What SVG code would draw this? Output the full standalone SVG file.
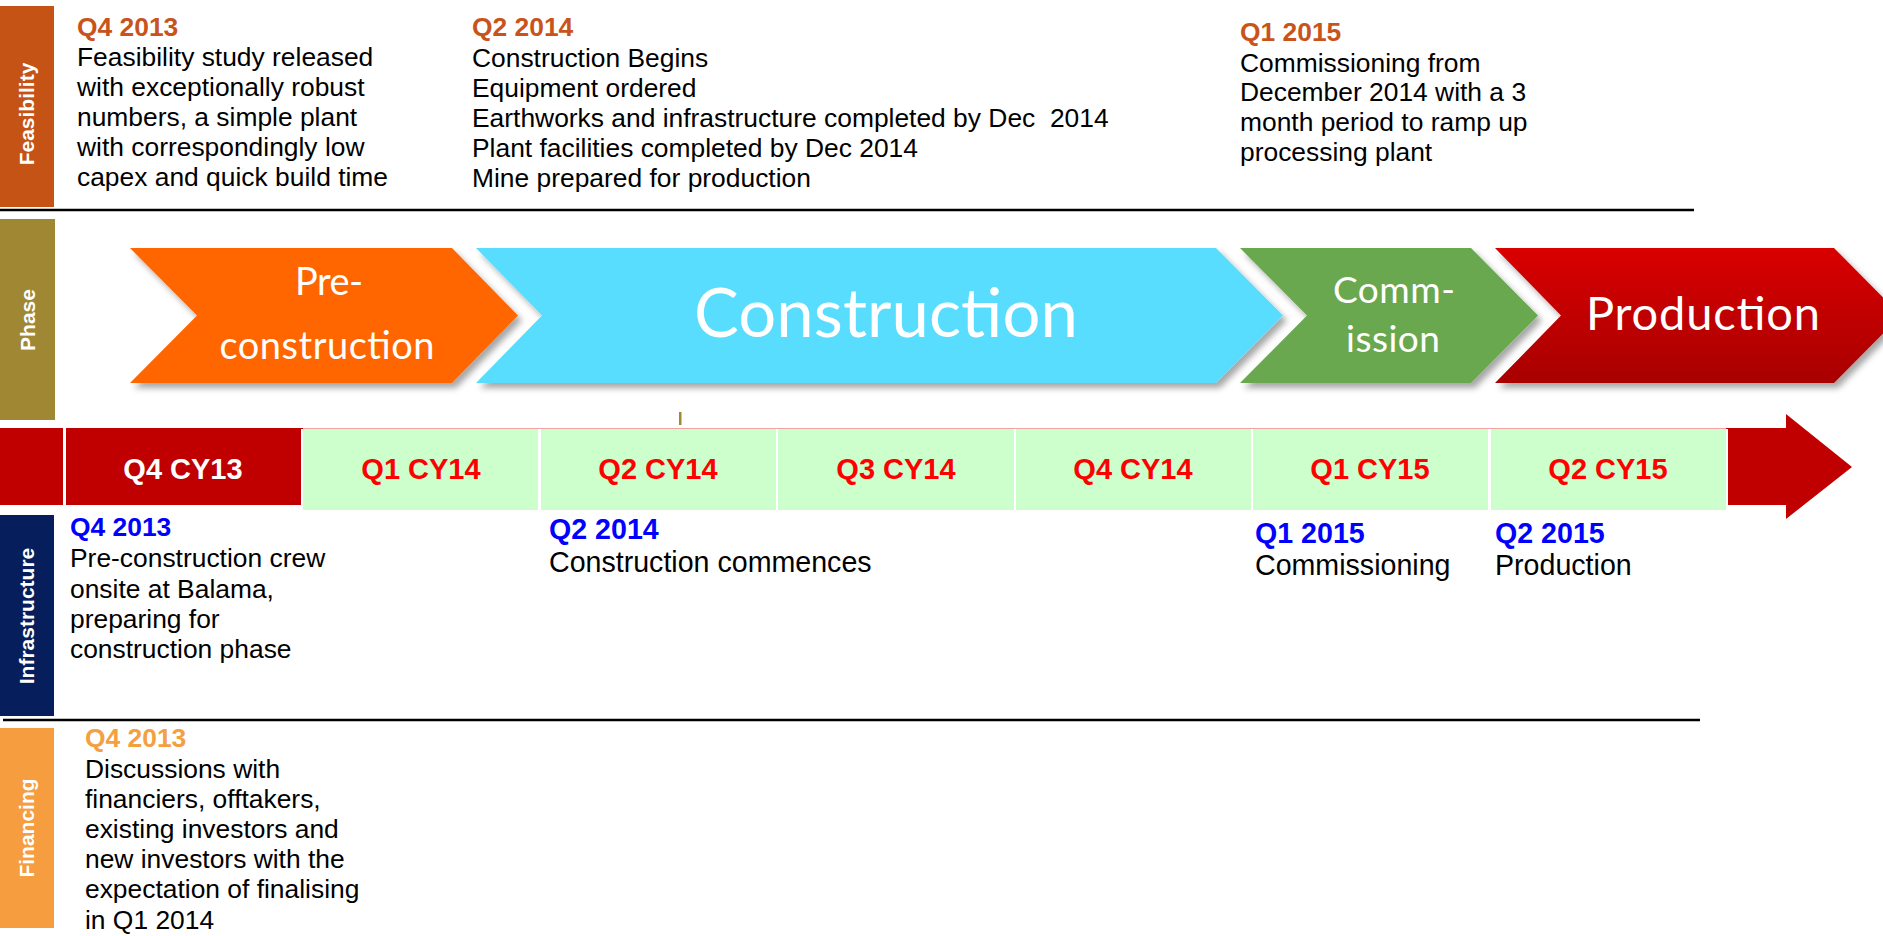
<svg xmlns="http://www.w3.org/2000/svg" width="1883" height="936" viewBox="0 0 1883 936">
<style>
.t{font-family:"Liberation Sans",Arial,sans-serif;font-size:26.4px;fill:#000}
.t2{font-family:"Liberation Sans",Arial,sans-serif;font-size:28.6px;fill:#000}
.h{font-weight:bold}
.fe{fill:#C9541B}
.bl{fill:#0000FF}
.fi{fill:#F4A041}
.lane{font-family:"Liberation Sans",Arial,sans-serif;font-weight:bold;font-size:21px;fill:#fff;text-anchor:middle}
.q{font-family:"Liberation Sans",Arial,sans-serif;font-weight:bold;font-size:29px;fill:#FF0000;text-anchor:middle}
.cv{font-family:Lato,"Noto Sans",sans-serif;fill:#fff}
.cell{fill:#CCFFCC}
.div{stroke:#000;stroke-width:2.5}
</style>
<defs>
<filter id="sh" x="-5%" y="-10%" width="115%" height="130%">
<feDropShadow dx="4" dy="5" stdDeviation="3" flood-color="#000" flood-opacity="0.35"/>
</filter>
<linearGradient id="prod" x1="0" y1="0" x2="0" y2="1">
<stop offset="0" stop-color="#D90000"/>
<stop offset="1" stop-color="#A80000"/>
</linearGradient>
</defs>
<rect width="1883" height="936" fill="#fff"/>

<g id="lane-feasibility">
<rect x="0" y="6" width="54" height="201" fill="#C65316"/>
<text class="lane" transform="translate(34,114) rotate(-90)">Feasibility</text>
</g>
<g id="lane-phase">
<rect x="0" y="219" width="55" height="201" fill="#9F8733"/>
<text class="lane" transform="translate(35,320) rotate(-90)">Phase</text>
</g>
<g id="lane-infrastructure">
<rect x="0" y="515" width="54" height="201" fill="#061F5C"/>
<text class="lane" transform="translate(34,616) rotate(-90)">Infrastructure</text>
</g>
<g id="lane-financing">
<rect x="0" y="728" width="54" height="200" fill="#F59D3F"/>
<text class="lane" transform="translate(34,828) rotate(-90)">Financing</text>
</g>

<g id="connectors">
<line class="div" x1="0" y1="210" x2="1694" y2="210"/>
<line class="div" x1="3" y1="720" x2="1700" y2="720"/>
</g>

<g id="feas-q4-2013">
<text class="t"><tspan class="h fe" x="77" y="36">Q4 2013</tspan><tspan x="77" y="66">Feasibility study released</tspan><tspan x="77" y="96">with exceptionally robust</tspan><tspan x="77" y="126">numbers, a simple plant</tspan><tspan x="77" y="156">with correspondingly low</tspan><tspan x="77" y="186">capex and quick build time</tspan></text>
</g>
<g id="feas-q2-2014">
<text class="t" style="white-space:pre"><tspan class="h fe" x="472" y="36">Q2 2014</tspan><tspan x="472" y="67">Construction Begins</tspan><tspan x="472" y="97">Equipment ordered</tspan><tspan x="472" y="127">Earthworks and infrastructure completed by Dec  2014</tspan><tspan x="472" y="157">Plant facilities completed by Dec 2014</tspan><tspan x="472" y="187">Mine prepared for production</tspan></text>
</g>
<g id="feas-q1-2015">
<text class="t"><tspan class="h fe" x="1240" y="41">Q1 2015</tspan><tspan x="1240" y="72">Commissioning from</tspan><tspan x="1240" y="101">December 2014 with a 3</tspan><tspan x="1240" y="131">month period to ramp up</tspan><tspan x="1240" y="161">processing plant</tspan></text>
</g>

<g id="phase-preconstruction">
<polygon points="130,248 452,248 518,315.5 452,383 130,383 197,315.5" fill="#FF6600" filter="url(#sh)"/>
<text class="cv" font-size="38" text-anchor="middle" x="329" y="295" textLength="68">Pre-</text>
<text class="cv" font-size="38" text-anchor="middle" x="327" y="359" textLength="215">construction</text>
</g>
<g id="phase-construction">
<polygon points="476,248 1216,248 1283,315.5 1216,383 476,383 542,315.5" fill="#59DDFE" filter="url(#sh)"/>
<text class="cv" font-size="67" x="694" y="337" textLength="384">Construction</text>
</g>
<g id="phase-commission">
<polygon points="1240,248 1471,248 1538,315.5 1471,383 1240,383 1307,315.5" fill="#6AA84F" filter="url(#sh)"/>
<text class="cv" font-size="37" text-anchor="middle" x="1394" y="303" textLength="122">Comm-</text>
<text class="cv" font-size="37" text-anchor="middle" x="1393" y="352" textLength="94">ission</text>
</g>
<g id="phase-production">
<polygon points="1495,248 1834,248 1901,315.5 1834,383 1495,383 1561,315.5" fill="url(#prod)" filter="url(#sh)"/>
<text class="cv" font-size="47" x="1586" y="330" textLength="234">Production</text>
</g>

<g id="tick">
<rect x="679" y="412" width="2.5" height="13" fill="#9F8733"/>
</g>

<g id="timeline">
<polygon points="0,428 1786,428 1786,414 1852,467 1786,519 1786,505 0,505" fill="#C00000"/>
<rect x="63" y="428" width="3" height="77" fill="#fff"/>
<rect x="301" y="429" width="1427" height="81" fill="#fff"/>
<line x1="303" y1="428.5" x2="1726" y2="428.5" stroke="#F2A4A4" stroke-width="1"/>
</g>
<g id="q4-cy13"><text class="q" style="fill:#fff" x="183" y="479">Q4 CY13</text></g>
<g id="q1-cy14"><rect class="cell" x="303" y="429" width="235" height="81"/><text class="q" x="421" y="479">Q1 CY14</text></g>
<g id="q2-cy14"><rect class="cell" x="541" y="429" width="235" height="81"/><text class="q" x="658" y="479">Q2 CY14</text></g>
<g id="q3-cy14"><rect class="cell" x="778" y="429" width="236" height="81"/><text class="q" x="896" y="479">Q3 CY14</text></g>
<g id="q4-cy14"><rect class="cell" x="1016" y="429" width="235" height="81"/><text class="q" x="1133" y="479">Q4 CY14</text></g>
<g id="q1-cy15"><rect class="cell" x="1253" y="429" width="235" height="81"/><text class="q" x="1370" y="479">Q1 CY15</text></g>
<g id="q2-cy15"><rect class="cell" x="1491" y="429" width="235" height="81"/><text class="q" x="1608" y="479">Q2 CY15</text></g>

<g id="infra-q4-2013">
<text class="t"><tspan class="h bl" x="70" y="536">Q4 2013</tspan><tspan x="70" y="567">Pre-construction crew</tspan><tspan x="70" y="598">onsite at Balama,</tspan><tspan x="70" y="628">preparing for</tspan><tspan x="70" y="658">construction phase</tspan></text>
</g>
<g id="infra-q2-2014">
<text class="t2"><tspan class="h bl" x="549" y="539">Q2 2014</tspan><tspan x="549" y="572">Construction commences</tspan></text>
</g>
<g id="infra-q1-2015">
<text class="t2"><tspan class="h bl" x="1255" y="543">Q1 2015</tspan><tspan x="1255" y="575">Commissioning</tspan></text>
</g>
<g id="infra-q2-2015">
<text class="t2"><tspan class="h bl" x="1495" y="543">Q2 2015</tspan><tspan x="1495" y="575">Production</tspan></text>
</g>

<g id="fin-q4-2013">
<text class="t"><tspan class="h fi" x="85" y="747">Q4 2013</tspan><tspan x="85" y="778">Discussions with</tspan><tspan x="85" y="808">financiers, offtakers,</tspan><tspan x="85" y="838">existing investors and</tspan><tspan x="85" y="868">new investors with the</tspan><tspan x="85" y="898">expectation of finalising</tspan><tspan x="85" y="929">in Q1 2014</tspan></text>
</g>
</svg>
